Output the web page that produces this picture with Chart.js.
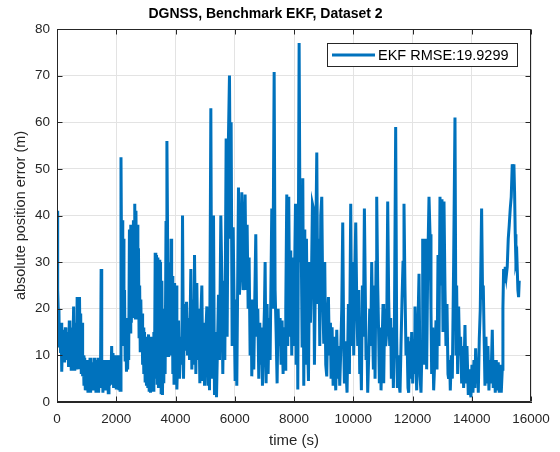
<!DOCTYPE html>
<html><head><meta charset="utf-8">
<script src="https://cdn.jsdelivr.net/npm/chart.js@4.4.1/dist/chart.umd.min.js"></script>
<style>html,body{margin:0;padding:0;background:#fff}#wrap{width:560px;height:452px}</style>
</head><body><div id="wrap"><canvas id="c" width="560" height="452"></canvas></div>
<script>
const titleText = 'DGNSS, Benchmark EKF, Dataset 2';
const xAxisLabel = 'time (s)';
const yAxisLabel = 'absolute position error (m)';
const seriesName = 'EKF RMSE:19.9299';
const xTicks = [0, 2000, 4000, 6000, 8000, 10000, 12000, 14000, 16000];
const yTicks = [0, 10, 20, 30, 40, 50, 60, 70, 80];

const timeS = [0,15,30,50,65,80,100,120,140,160,
190,210,235,255,280,300,336,355,370,390,
415,435,460,480,505,530,561,580,600,620,
640,660,680,700,720,740,760,780,800,820,
845,865,890,910,935,955,980,1000,1025,1045,
1070,1090,1115,1135,1160,1180,1200,1225,1250,1270,
1295,1315,1340,1360,1385,1405,1430,1450,1470,1490,
1510,1530,1550,1575,1595,1620,1640,1665,1685,1710,
1730,1755,1775,1800,1820,1845,1865,1890,1910,1935,
1955,1980,2000,2025,2045,2070,2090,2110,2130,2160,
2185,2200,2220,2240,2260,2280,2300,2325,2345,2365,
2385,2400,2420,2445,2465,2490,2510,2535,2555,2580,
2600,2625,2645,2665,2685,2710,2730,2750,2770,2790,
2810,2830,2850,2870,2890,2910,2930,2955,2975,3000,
3020,3045,3065,3090,3110,3135,3155,3180,3200,3225,
3245,3270,3290,3315,3335,3360,3380,3405,3425,3450,
3470,3495,3515,3540,3560,3585,3605,3630,3650,3680,
3710,3730,3750,3770,3790,3810,3830,3850,3870,3890,
3910,3930,3950,3970,3990,4020,4046,4075,4102,4136,
4181,4215,4237,4271,4305,4338,4372,4406,4440,4473,
4518,4552,4586,4620,4642,4687,4720,4754,4788,4822,
4855,4889,4923,4957,4979,5024,5058,5092,5125,5148,
5193,5226,5260,5283,5316,5350,5384,5418,5451,5485,
5530,5563,5597,5631,5665,5710,5743,5788,5822,5856,
5878,5912,5946,5980,6013,6047,6069,6126,6159,6204,
6238,6283,6317,6350,6384,6418,6452,6485,6519,6553,
6575,6609,6643,6676,6710,6744,6778,6811,6845,6879,
6912,6935,6969,7002,7025,7058,7092,7126,7160,7193,
7250,7283,7330,7362,7396,7430,7463,7497,7531,7564,
7598,7632,7666,7699,7722,7756,7789,7823,7857,7890,
7924,7958,7991,8025,8050,8072,8105,8128,8173,8207,
8240,8274,8297,8330,8364,8386,8420,8454,8488,8521,
8555,8589,8622,8656,8690,8724,8769,8802,8836,8870,
8903,8937,8971,9005,9038,9072,9106,9140,9162,9196,
9230,9252,9286,9320,9353,9387,9409,9443,9477,9510,
9544,9578,9612,9645,9679,9702,9735,9769,9791,9836,
9870,9915,9949,9983,10016,10050,10084,10117,10151,10185,
10219,10252,10275,10308,10342,10376,10410,10432,10466,10488,
10522,10556,10590,10623,10657,10680,10713,10736,10769,10792,
10826,10859,10882,10916,10938,10972,11005,11028,11062,11095,
11129,11163,11196,11230,11264,11286,11320,11354,11387,11432,
11466,11489,11522,11545,11579,11612,11646,11680,11713,11747,
11781,11815,11848,11871,11904,11938,11972,12006,12040,12073,
12085,12119,12141,12175,12220,12254,12287,12321,12344,12377,
12411,12445,12478,12512,12557,12591,12624,12647,12681,12714,
12759,12793,12827,12861,12894,12928,12962,12995,13029,13063,
13097,13130,13164,13198,13220,13254,13276,13310,13344,13389,
13434,13468,13490,13524,13557,13591,13625,13659,13692,13726,
13771,13805,13838,13883,13917,13951,13973,14007,14041,14074,
14108,14131,14164,14198,14221,14254,14288,14333,14367,14389,
14423,14446,14479,14513,14547,14580,14614,14648,14693,14726,
14760,14794,14828,14861,14895,14929,14962,14996,15030,15052,
15075,15097,15131,15165,15198,15232,15266,15300,15333,15367,
15401,15423,15446,15468,15491,15524,15558,15581,15603];

const errorM = [41,30,24,18,20,12,17,10.5,17,6.5,
14,9,15.5,8.5,16,9,15,10,13,7.5,
17.5,8,14,7,16,9,20.5,7,17,10,
15,7,22.5,10,22,7,22.5,9,19,6,
17,5.5,10,3.5,9.5,2.5,9,3.5,8.5,2,
9,3,9.5,2,8,3,8.5,2.5,9.5,3,
8,2,9,3,9.5,2,8,3,7.5,28.5,
4,9,2,8.5,3,9,2.5,8,3,9,
2,9,3.5,9,4,12,4,10.5,3,8,
4,10,3,8.5,4,10,2.5,8,2.5,52.5,
24,39,16,35,12,24,9,14,6.5,18,
7,14,9,37,15,38,17,37.5,18,39,
21,42.5,18,41,25,38,20,33,14,25,
11,22,12.5,19,8,16,6,15,4.5,13,
3.5,14,3,14.5,2.5,13,2,14,3.5,11,
2.5,15,5,32,6,31.5,4,31,3,30.5,
5,30,2,26,1.5,15,4,20,6,38.5,
56,38.5,10,24,14,30,10,35,12,27,
6,20,4,25.5,12,25,2.7,10,17.5,5,
14,8,40,5,21,11,21.5,10,18,9,
28.5,7,22,8,31.5,6,25.5,9,20,4,
18,25,4.5,17,3.5,15,20.5,3.5,12,2.5,
63,5,25,40,1.5,15,1,12,23,9,
40,27,6,26,9,56.5,14,57,70,35,
60,12,37.5,20,4.5,22,3.5,46,23,30,
45,24,34,44.5,24,38,20,31,10,22,
5.5,18,7,22,36,14,20,5,17,8,
16,3.5,12,20,30,4,21,6,18,9,
41.5,20,70.8,24,15,4,20,12,18,8,
17.5,6,16,7,20,44.5,12,44,14,32.5,
10,31,12,30,42.5,8,35,2.7,77,30,
37,12,48,3.5,37,8,35,14,4.5,30,
17,26,42.5,41.5,8,28,53.5,21,35,12,
40,44,22,12.5,30,8,5.5,19,22.5,10,
17,5,16,3.5,14,7,2.5,15.5,5,12,
3.5,11,20,38.5,12,4,13,5,2,21,
6,42.5,12,30,10,27,38.5,22,12,24,
6,10,2.5,25,14,41.5,22,9,12,2,
10,20,12,30,14,7,25,5,30,44,
25,14,4,16,2.5,12,21,4,20,12,
15,43,22,12,18,5,16,3,14,59,
14,3,10,4,2,12,22,30,42.5,24,
10,14,3,2,13,5,15,4,13.5,6,
20.5,8,2.5,14,27.5,5.5,2,12,35,8,
20,35,7,28,44,36,20,6,16,2.5,
10,17.5,7,31.5,12,44,25,43.5,15,43,
24,12,21,6,5,9,2.5,10,5,30,
61,10,25,6,20.5,10,14,4,12,3,
16.5,4,12,1.5,7,2,1,8,2,9,
3,11.5,4,9.5,2,13.5,20,41.5,22,25,
12,3.5,14,4,12,2.5,9,4,15.5,3,
9,2,9,2.5,8.5,2,8,2,7,20,
28.5,25.5,29,27,29,35,38,41.5,44,51,
48,51,45,36,30,31,24,22.5,26];

if (timeS.length !== errorM.length) throw new Error('length mismatch ' + timeS.length + ' vs ' + errorM.length);

const FONT = "'Liberation Sans', Arial, Helvetica, sans-serif";
const AX = '#262626';
const BLUE = '#0072BD';

const framePlugin = {
  id: 'frame',
  afterDatasetsDraw(chart) {
    const {ctx, chartArea: a, scales: {x, y}} = chart;
    ctx.save();
    ctx.strokeStyle = AX;
    ctx.lineWidth = 1;
    const L = Math.round(a.left) + 0.5, R = Math.round(a.right) - 0.5;
    const T = Math.round(a.top) + 0.5, B = Math.round(a.bottom) - 0.5;
    ctx.beginPath();
    ctx.rect(L, T, R - L, B - T);
    xTicks.forEach(v => {
      const px = Math.round(x.getPixelForValue(v)) + 0.5;
      ctx.moveTo(px, B); ctx.lineTo(px, B - 5);
      ctx.moveTo(px, T); ctx.lineTo(px, T + 5);
    });
    yTicks.forEach(v => {
      const py = Math.round(y.getPixelForValue(v)) + 0.5;
      ctx.moveTo(L, py); ctx.lineTo(L + 5, py);
      ctx.moveTo(R, py); ctx.lineTo(R - 5, py);
    });
    ctx.stroke();
    // legend
    const ds = chart.data.datasets[0];
    const bx = 327.5, by = 43.5, bw = 190, bh = 23;
    ctx.fillStyle = '#fff';
    ctx.fillRect(bx, by, bw, bh);
    ctx.strokeStyle = AX;
    ctx.strokeRect(bx, by, bw, bh);
    ctx.beginPath();
    ctx.strokeStyle = ds.borderColor;
    ctx.lineWidth = 3;
    ctx.moveTo(332, by + bh / 2);
    ctx.lineTo(375, by + bh / 2);
    ctx.stroke();
    ctx.fillStyle = '#000';
    ctx.font = '14.5px ' + FONT;
    ctx.textBaseline = 'middle';
    ctx.textAlign = 'left';
    ctx.fillText(ds.label, 378, by + bh / 2 + 0.5);
    ctx.restore();
  }
};

new Chart(document.getElementById('c'), {
  type: 'line',
  data: {
    datasets: [{
      label: seriesName,
      data: timeS.map((t, i) => ({x: t, y: errorM[i]})),
      borderColor: BLUE,
      backgroundColor: BLUE,
      borderWidth: 3,
      borderJoinStyle: 'miter',
      pointRadius: 0,
      tension: 0,
      fill: false
    }]
  },
  options: {
    responsive: false,
    animation: false,
    devicePixelRatio: 1,
    layout: {padding: {left: 0, right: 29, top: 0, bottom: 0}},
    plugins: {
      legend: {display: false},
      tooltip: {enabled: false},
      title: {
        display: true, text: titleText, color: '#000',
        font: {family: FONT, size: 14, weight: 'bold', lineHeight: 1.2},
        padding: {top: 6, bottom: 6.2}
      }
    },
    scales: {
      x: {
        type: 'linear', min: 0, max: 16000,
        afterBuildTicks: s => { s.ticks = xTicks.map(v => ({value: v})); },
        afterFit: s => { s.height = 50; },
        ticks: {color: AX, font: {family: FONT, size: 13.5}, padding: 9, maxRotation: 0, autoSkip: false,
                callback: v => String(v)},
        grid: {color: '#e3e3e3', drawTicks: false, lineWidth: 1},
        border: {display: true, color: AX},
        title: {display: true, text: xAxisLabel, color: AX, font: {family: FONT, size: 15}, padding: {top: 0, bottom: 2}}
      },
      y: {
        type: 'linear', min: 0, max: 80,
        afterBuildTicks: s => { s.ticks = yTicks.map(v => ({value: v})); },
        afterFit: s => { s.width = 57; },
        ticks: {color: AX, font: {family: FONT, size: 13.5}, padding: 7, autoSkip: false,
                callback: v => String(v)},
        grid: {color: '#e3e3e3', drawTicks: false, lineWidth: 1},
        border: {display: true, color: AX},
        title: {display: true, text: yAxisLabel, color: AX, font: {family: FONT, size: 14.5}, padding: {top: 12, bottom: 0}}
      }
    }
  },
  plugins: [framePlugin]
});
</script>
</body></html>
